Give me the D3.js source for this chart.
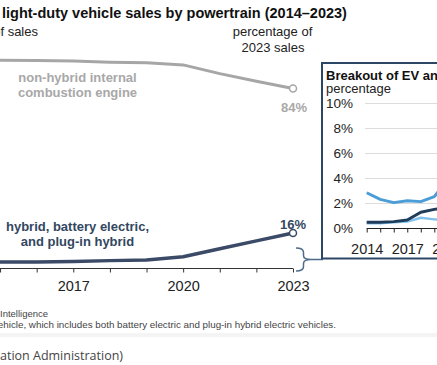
<!DOCTYPE html>
<html>
<head>
<meta charset="utf-8">
<script src="https://cdn.jsdelivr.net/npm/d3@7"></script>
<style>
  html, body { margin: 0; padding: 0; background: #fff; overflow: hidden; }
  svg { display: block; font-family: "Liberation Sans", Arial, sans-serif; }
</style>
</head>
<body>
<svg id="chart" width="437" height="365"></svg>
<script>
// ---- data ----
const years = [2014, 2015, 2016, 2017, 2018, 2019, 2020, 2021, 2022, 2023];
const iceShare = [97.4, 97.3, 97.2, 96.9, 96.4, 96.1, 95.1, 91.0, 87.4, 84.0];
const electrifiedShare = [2.6, 2.4, 2.4, 2.6, 3.0, 3.3, 4.8, 8.6, 12.3, 16.0];
const axisLabelYears = [2014, 2017, 2020, 2023];

const insetYears = [2014, 2015, 2016, 2017, 2018, 2019, 2020];
const hevShare = [2.86, 2.33, 2.07, 2.22, 2.15, 2.55, 3.9];
const bevShare = [0.5, 0.5, 0.55, 0.68, 1.3, 1.53, 1.7];
const phevShare = [0.42, 0.42, 0.5, 0.55, 0.86, 0.73, 0.7];
const insetTicks = [0, 2, 4, 6, 8, 10];

const svg = d3.select("#chart");

// ---- titles ----
svg.append("text").attr("x", 2).attr("y", 18)
  .attr("font-size", 14.5).attr("font-weight", "bold").attr("fill", "#111")
  .text("light-duty vehicle sales by powertrain (2014–2023)");
svg.append("text").attr("x", 38).attr("y", 36).attr("text-anchor", "end")
  .attr("font-size", 13).attr("fill", "#222").text("of sales");
const rt = svg.append("text").attr("font-size", 13).attr("fill", "#222").attr("text-anchor", "middle");
rt.append("tspan").attr("x", 272.5).attr("y", 35.5).text("percentage of");
rt.append("tspan").attr("x", 273).attr("y", 52).text("2023 sales");

// ---- main chart ----
const x = d3.scaleLinear().domain([2017, 2023]).range([73.3, 293]);
const y = d3.scaleLinear().domain([0, 100]).range([267, 54.5]);

const axisG = svg.append("g").attr("transform", "translate(0,268.5)");
axisG.call(d3.axisBottom(x).tickValues(years).tickSize(4).tickSizeOuter(0)
  .tickFormat(d => (axisLabelYears.includes(d) && x(d) >= 0) ? d : ""));
axisG.select(".domain").attr("stroke", "#333").attr("d", `M${x(2014)},0H${x(2023)}`);
axisG.selectAll(".tick line").attr("stroke", "#333");
axisG.selectAll(".tick text").attr("font-size", 14.5).attr("fill", "#222")
  .attr("font-family", "Liberation Sans, Arial, sans-serif").attr("dy", "1.05em");

const line = d3.line().x((d, i) => x(years[i])).y(d => y(d));

svg.append("path").datum(iceShare).attr("d", line)
  .attr("fill", "none").attr("stroke", "#a6a6a6").attr("stroke-width", 3)
  .attr("stroke-linejoin", "round");
svg.append("path").datum(electrifiedShare).attr("d", line)
  .attr("fill", "none").attr("stroke", "#3b4a66").attr("stroke-width", 3.5)
  .attr("stroke-linejoin", "round");

const last = years.length - 1;
svg.append("circle").attr("cx", x(years[last])).attr("cy", y(iceShare[last])).attr("r", 3.5)
  .attr("fill", "#fff").attr("stroke", "#a6a6a6").attr("stroke-width", 1.5);
svg.append("circle").attr("cx", x(years[last])).attr("cy", y(electrifiedShare[last])).attr("r", 3.5)
  .attr("fill", "#fff").attr("stroke", "#3b4a66").attr("stroke-width", 1.5);

svg.append("text").attr("x", x(2023) + 1).attr("y", 111.5).attr("text-anchor", "middle")
  .attr("font-size", 13).attr("font-weight", "bold").attr("fill", "#a8a8a8")
  .text(Math.round(iceShare[last]) + "%");
svg.append("text").attr("x", x(2023)).attr("y", 229).attr("text-anchor", "middle")
  .attr("font-size", 13).attr("font-weight", "bold").attr("fill", "#33475f")
  .text(Math.round(electrifiedShare[last]) + "%");

const iceLbl = svg.append("text").attr("text-anchor", "middle").attr("font-size", 13)
  .attr("font-weight", "bold").attr("fill", "#a8a8a8");
iceLbl.append("tspan").attr("x", 77.5).attr("y", 82).text("non-hybrid internal");
iceLbl.append("tspan").attr("x", 77.5).attr("y", 97).text("combustion engine");

const evLbl = svg.append("text").attr("text-anchor", "middle").attr("font-size", 13)
  .attr("font-weight", "bold").attr("fill", "#33475f");
evLbl.append("tspan").attr("x", 77.5).attr("y", 231).text("hybrid, battery electric,");
evLbl.append("tspan").attr("x", 77.5).attr("y", 246).text("and plug-in hybrid");

// bracket
svg.append("path")
  .attr("d", "M296,248 Q303.5,248 303.5,252.5 L303.5,255.5 Q303.5,259.5 311,259.5 Q303.5,259.5 303.5,263.5 L303.5,266.5 Q303.5,271 296,271 M311,259.5 L323,259.5")
  .attr("fill", "none").attr("stroke", "#4e6b8a").attr("stroke-width", 1.5);

// ---- inset ----
svg.append("rect").attr("x", 322).attr("y", 63).attr("width", 140).attr("height", 195.5)
  .attr("fill", "#fff").attr("stroke", "#2c4766").attr("stroke-width", 2);
svg.append("text").attr("x", 326).attr("y", 79.5).attr("font-size", 13)
  .attr("font-weight", "bold").attr("fill", "#111").text("Breakout of EV and hybrid sales");
svg.append("text").attr("x", 326).attr("y", 93).attr("font-size", 13)
  .attr("fill", "#222").text("percentage");

const ix = d3.scaleLinear().domain([2014, 2019]).range([366.7, 434.3]);
const iy = d3.scaleLinear().domain([0, 10]).range([228.5, 103.5]);

const ig = svg.append("g");
ig.selectAll("line.grid").data(insetTicks.filter(d => d > 0)).enter().append("line")
  .attr("x1", 365).attr("x2", 460).attr("y1", d => iy(d)).attr("y2", d => iy(d))
  .attr("stroke", "#dcdcdc").attr("stroke-width", 1);
ig.selectAll("text.ylab").data(insetTicks).enter().append("text")
  .attr("x", 353).attr("y", d => iy(d)).attr("dy", "0.35em").attr("text-anchor", "end")
  .attr("font-size", 13.5).attr("fill", "#222").text(d => d + "%");

const iAxis = svg.append("g").attr("transform", `translate(0,${iy(0)})`);
iAxis.call(d3.axisBottom(ix).tickValues(d3.range(2014, 2024)).tickSize(4).tickSizeOuter(0)
  .tickFormat(d => axisLabelYears.includes(d) ? d : ""));
iAxis.select(".domain").attr("stroke", "#222").attr("d", `M${ix(2014)},0H${ix(2023)}`);
iAxis.selectAll(".tick line").attr("stroke", "#222");
iAxis.selectAll(".tick text").attr("font-size", 14.5).attr("fill", "#222")
  .attr("font-family", "Liberation Sans, Arial, sans-serif").attr("dy", "1.3em");

const iline = d3.line().x((d, i) => ix(insetYears[i])).y(d => iy(d));
svg.append("path").datum(hevShare).attr("d", iline).attr("fill", "none")
  .attr("stroke", "#4b9dd7").attr("stroke-width", 3).attr("stroke-linejoin", "round");
svg.append("path").datum(phevShare).attr("d", iline).attr("fill", "none")
  .attr("stroke", "#80c2ec").attr("stroke-width", 2.5).attr("stroke-linejoin", "round");
svg.append("path").datum(bevShare).attr("d", iline).attr("fill", "none")
  .attr("stroke", "#1f3c5a").attr("stroke-width", 3).attr("stroke-linejoin", "round");

// ---- footer ----
svg.append("text").attr("x", 0).attr("y", 317).attr("font-size", 9.5).attr("fill", "#444")
  .text("Intelligence");
svg.append("text").attr("x", 336).attr("y", 327.5).attr("text-anchor", "end")
  .attr("font-size", 9.8).attr("fill", "#444")
  .text("vehicle, which includes both battery electric and plug-in hybrid electric vehicles.");
svg.append("rect").attr("x", 0).attr("y", 333).attr("width", 437).attr("height", 4).attr("fill", "#f4f4f4");
svg.append("text").attr("x", 0).attr("y", 360).attr("font-size", 12.5).attr("fill", "#444")
  .attr("font-family", "Open Sans, sans-serif").text("ation Administration)");
</script>
</body>
</html>
